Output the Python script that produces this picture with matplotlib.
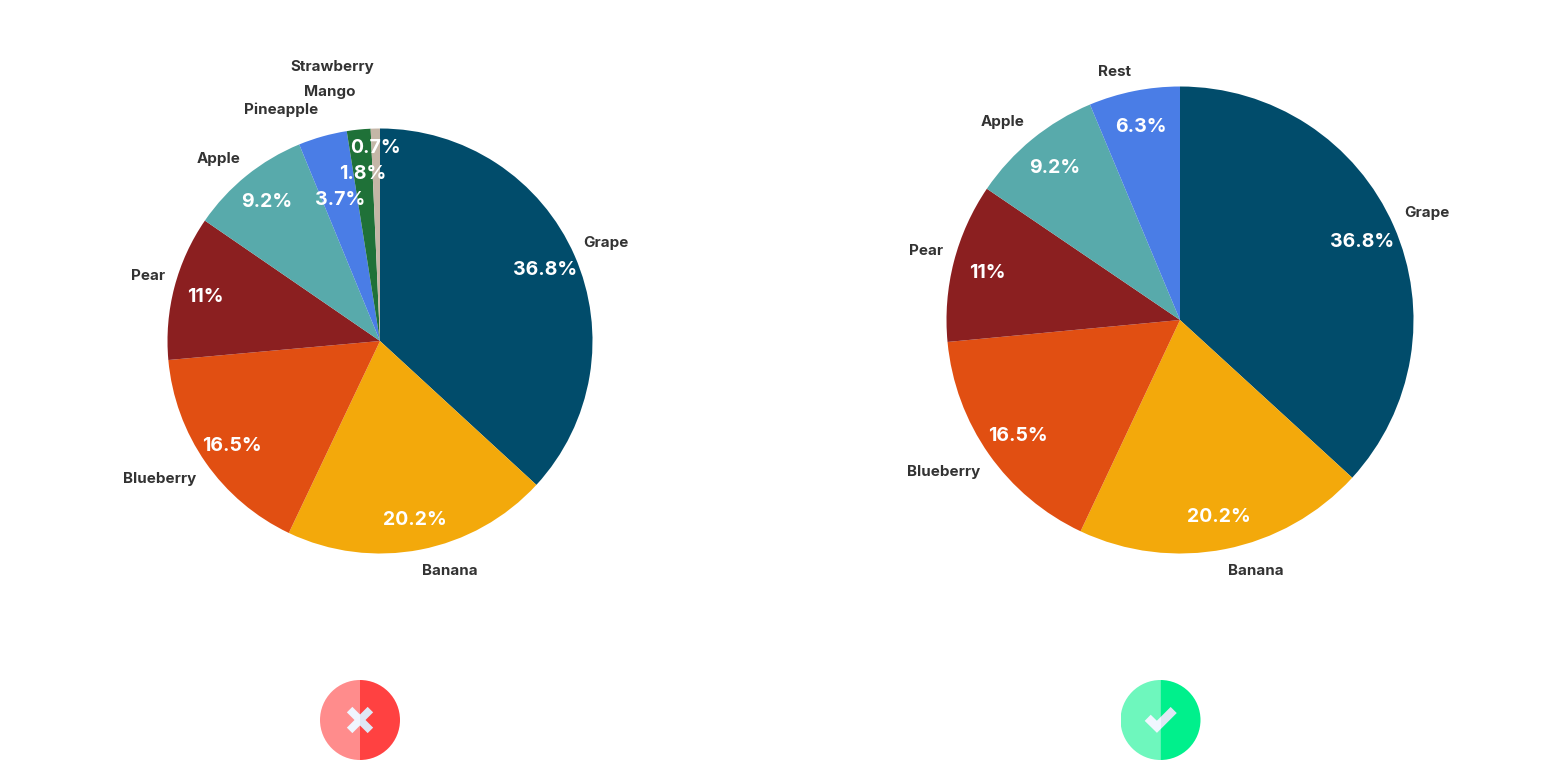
import matplotlib
matplotlib.use('Agg')
from matplotlib import pyplot as plt
from matplotlib.patches import Wedge, Rectangle

plt.rcParams['font.family'] = ['Inter', 'DejaVu Sans']

W, H = 1560, 760

all_labels = ['Grape', 'Banana', 'Blueberry', 'Pear', 'Apple', 'Pineapple', 'Mango', 'Strawberry']
all_values = [36.8, 20.2, 16.5, 11, 9.2, 3.7, 1.8, 0.7]
all_colors = ['#014c6b', '#f3a90b', '#e14f12', '#8b1f20', '#58aaab', '#4a7de6', '#1f7138', '#c4b6a7']

grouped_labels = ['Grape', 'Banana', 'Blueberry', 'Pear', 'Apple', 'Rest']
grouped_values = [36.8, 20.2, 16.5, 11, 9.2, 6.3]
grouped_colors = ['#014c6b', '#f3a90b', '#e14f12', '#8b1f20', '#58aaab', '#4a7de6']


def axes_px(fig, cx, cy, r):
    # pixel box, y measured from the top of the picture
    return fig.add_axes([(cx - r) / W, 1 - (cy + r) / H, 2 * r / W, 2 * r / H])


def pct(p):
    return '{0:g}%'.format(round(p, 1))


def nudge(t, dx, dy, r):
    x, y = t.get_position()
    t.set_position((x + dx / r, y - dy / r))


def draw_pie(ax, r, values, labels, colors, label_nudges, pct_scale):
    wedges, texts, pcts = ax.pie(values, labels=labels, colors=colors, startangle=90,
                                 counterclock=False, autopct=pct, pctdistance=0.85,
                                 labeldistance=1.08, radius=1,
                                 textprops={'fontsize': 10.9, 'fontweight': 'bold', 'color': '#333333'})
    for t, name in zip(texts, labels):
        nudge(t, *label_nudges[name], r)
    for t, name in zip(pcts, labels):
        t.set_color('white')
        t.set_fontsize(14)
        t.set_fontweight('bold')
        # the thin slices have their numbers pulled in towards the centre
        x, y = t.get_position()
        k = pct_scale.get(name, 1)
        t.set_position((x * k, y * k))
        nudge(t, 0, 2, r)
    ax.set_xlim(-1, 1)
    ax.set_ylim(-1, 1)


def draw_icon(fig, cx, cy, light, dark, paths, lw):
    ax = axes_px(fig, cx, cy, 40)
    ax.set_xlim(-1, 1)
    ax.set_ylim(-1, 1)
    ax.axis('off')
    ax.add_patch(Wedge((0, 0), 1, 90, 270, color=light, lw=0))
    ax.add_patch(Wedge((0, 0), 1, -90, 90, color=dark, lw=0))
    for xs, ys in paths:
        for col, box in (('#f0f6ff', (-1, -1, 1, 2)), ('#dfe7f4', (0, -1, 1, 2))):
            line, = ax.plot(xs, ys, color=col, lw=lw, solid_capstyle='butt', solid_joinstyle='miter')
            line.set_clip_path(Rectangle(box[:2], box[2], box[3], transform=ax.transData))


fig = plt.figure(figsize=(W / 100, H / 100), dpi=100, facecolor='white')

ax1 = axes_px(fig, 380, 341, 212.5)
draw_pie(ax1, 212.5, all_values, all_labels, all_colors,
         {'Grape': (-7, -6), 'Banana': (-2, 5), 'Blueberry': (5, 7), 'Pear': (7, -7),
          'Apple': (5, -3), 'Pineapple': (0, -10), 'Mango': (-1, -21), 'Strawberry': (-1, -45)},
         {'Pineapple': 0.70 / 0.85, 'Mango': 0.80 / 0.85, 'Strawberry': 0.92 / 0.85})

ax2 = axes_px(fig, 1180, 320, 233.5)
draw_pie(ax2, 233.5, grouped_values, grouped_labels, grouped_colors,
         {'Grape': (-7, -5), 'Banana': (-1, 4), 'Blueberry': (7, 7), 'Pear': (7, -6),
          'Apple': (4, -3), 'Rest': (1, -1)},
         {})

draw_icon(fig, 360, 720, '#ff8c8c', '#ff4141',
          [([-0.26, 0.26], [-0.26, 0.26]), ([-0.26, 0.26], [0.26, -0.26])], 5.6)
draw_icon(fig, 1160.5, 720, '#6ef7bd', '#00f08c',
          [([-0.32, -0.09, 0.33], [0.055, -0.17, 0.25])], 6.2)

plt.savefig('out.png', dpi=100)
